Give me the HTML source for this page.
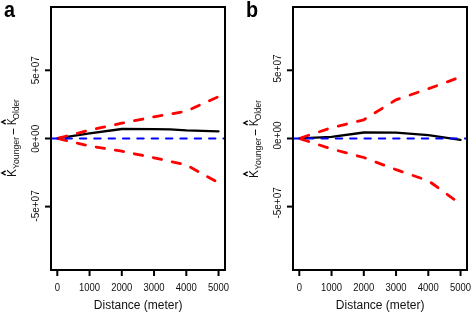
<!DOCTYPE html>
<html><head><meta charset="utf-8"><style>
html,body{margin:0;padding:0;background:#fff;}
body{width:472px;height:313px;overflow:hidden;}
svg{display:block;font-family:"Liberation Sans", sans-serif;will-change:transform;}
</style></head><body>
<svg width="472" height="313" viewBox="0 0 472 313">
<rect width="472" height="313" fill="#fff"/>
<text transform="translate(4.0 17.0) scale(0.92 1)" font-size="21.5" font-weight="bold">a</text>
<clipPath id="clipa"><rect x="52" y="8" width="172" height="261"/></clipPath>
<g clip-path="url(#clipa)" fill="none" stroke-linecap="round" stroke-linejoin="round">
<path d="M57.30 138.40 L89.55 133.30 L121.80 129.00 L154.05 129.10 L170.18 129.30 L186.30 130.30 L218.55 131.30" stroke="#000" stroke-width="2.3"/>
<path d="M57.30 138.40 L89.55 130.20 L121.80 123.20 L154.05 116.80 L186.30 111.20 L218.55 96.60" stroke="#ff0000" stroke-width="2.8" stroke-dasharray="8.5 11.010" stroke-dashoffset="-1.200"/>
<path d="M57.30 138.40 L89.55 146.00 L121.80 151.20 L154.05 157.80 L186.30 165.00 L218.55 182.70" stroke="#ff0000" stroke-width="2.8" stroke-dasharray="8.5 10.860" stroke-dashoffset="-1.100"/>
<path d="M51.25 138.5 H230" stroke="#0000ff" stroke-width="2.1" stroke-dasharray="6.3 8.05"/>
</g>
<rect x="51" y="7" width="174" height="263" fill="none" stroke="#000" stroke-width="2"/>
<line x1="57.30" y1="270" x2="57.30" y2="276" stroke="#000" stroke-width="2"/>
<text transform="translate(57.30 291) scale(0.95 1)" font-size="10" text-anchor="middle" fill="#111">0</text>
<line x1="89.55" y1="270" x2="89.55" y2="276" stroke="#000" stroke-width="2"/>
<text transform="translate(89.55 291) scale(0.95 1)" font-size="10" text-anchor="middle" fill="#111">1000</text>
<line x1="121.80" y1="270" x2="121.80" y2="276" stroke="#000" stroke-width="2"/>
<text transform="translate(121.80 291) scale(0.95 1)" font-size="10" text-anchor="middle" fill="#111">2000</text>
<line x1="154.05" y1="270" x2="154.05" y2="276" stroke="#000" stroke-width="2"/>
<text transform="translate(154.05 291) scale(0.95 1)" font-size="10" text-anchor="middle" fill="#111">3000</text>
<line x1="186.30" y1="270" x2="186.30" y2="276" stroke="#000" stroke-width="2"/>
<text transform="translate(186.30 291) scale(0.95 1)" font-size="10" text-anchor="middle" fill="#111">4000</text>
<line x1="218.55" y1="270" x2="218.55" y2="276" stroke="#000" stroke-width="2"/>
<text transform="translate(218.55 291) scale(0.95 1)" font-size="10" text-anchor="middle" fill="#111">5000</text>
<line x1="45" y1="70.3" x2="51" y2="70.3" stroke="#000" stroke-width="2"/>
<text transform="translate(39.2 70.2) rotate(-90)" font-size="10" text-anchor="middle" fill="#111">5e+07</text>
<line x1="45" y1="138.5" x2="51" y2="138.5" stroke="#000" stroke-width="2"/>
<text transform="translate(39.2 138.8) rotate(-90)" font-size="10" text-anchor="middle" fill="#111">0e+00</text>
<line x1="45" y1="206.6" x2="51" y2="206.6" stroke="#000" stroke-width="2"/>
<text transform="translate(39.2 206.0) rotate(-90)" font-size="10" text-anchor="middle" fill="#111">-5e+07</text>
<text x="138.2" y="309.4" font-size="12" text-anchor="middle" fill="#111">Distance (meter)</text>
<g transform="translate(16 177) rotate(-90)" fill="#111"><text x="0" y="0" font-size="12">K</text><path d="M1.9 -10.3 L4.0 -14.1 L6.1 -10.3" fill="none" stroke="#000" stroke-width="1.4"/><text x="8" y="2.8" font-size="8.7">Younger</text><path d="M42.6 -2.5 H48.4" stroke="#111" stroke-width="1"/><text transform="translate(52.0 0) scale(0.86 1)" font-size="12">K</text><path d="M52.9 -10.3 L55 -14.1 L57.1 -10.3" fill="none" stroke="#000" stroke-width="1.4"/><text x="57.6" y="2.8" font-size="8.3">Older</text></g>
<text transform="translate(246.0 16.6) scale(0.92 1)" font-size="21.5" font-weight="bold">b</text>
<clipPath id="clipb"><rect x="294" y="8" width="172" height="261"/></clipPath>
<g clip-path="url(#clipb)" fill="none" stroke-linecap="round" stroke-linejoin="round">
<path d="M299.30 138.40 L331.55 136.80 L363.80 132.50 L396.05 132.60 L428.30 135.20 L460.55 139.80" stroke="#000" stroke-width="2.3"/>
<path d="M299.30 138.40 L331.55 127.70 L363.80 119.80 L396.05 99.80 L428.30 88.80 L460.55 77.00" stroke="#ff0000" stroke-width="2.8" stroke-dasharray="8.5 11.260" stroke-dashoffset="-1.400"/>
<path d="M299.30 138.40 L331.55 149.00 L363.80 157.50 L396.05 169.70 L428.30 180.70 L460.55 204.00" stroke="#ff0000" stroke-width="2.8" stroke-dasharray="8.5 11.210" stroke-dashoffset="-1.400"/>
<path d="M292.75 138.5 H472" stroke="#0000ff" stroke-width="2.1" stroke-dasharray="6.3 8.05"/>
</g>
<rect x="293" y="7" width="174" height="263" fill="none" stroke="#000" stroke-width="2"/>
<line x1="299.30" y1="270" x2="299.30" y2="276" stroke="#000" stroke-width="2"/>
<text transform="translate(299.30 291) scale(0.95 1)" font-size="10" text-anchor="middle" fill="#111">0</text>
<line x1="331.55" y1="270" x2="331.55" y2="276" stroke="#000" stroke-width="2"/>
<text transform="translate(331.55 291) scale(0.95 1)" font-size="10" text-anchor="middle" fill="#111">1000</text>
<line x1="363.80" y1="270" x2="363.80" y2="276" stroke="#000" stroke-width="2"/>
<text transform="translate(363.80 291) scale(0.95 1)" font-size="10" text-anchor="middle" fill="#111">2000</text>
<line x1="396.05" y1="270" x2="396.05" y2="276" stroke="#000" stroke-width="2"/>
<text transform="translate(396.05 291) scale(0.95 1)" font-size="10" text-anchor="middle" fill="#111">3000</text>
<line x1="428.30" y1="270" x2="428.30" y2="276" stroke="#000" stroke-width="2"/>
<text transform="translate(428.30 291) scale(0.95 1)" font-size="10" text-anchor="middle" fill="#111">4000</text>
<line x1="460.55" y1="270" x2="460.55" y2="276" stroke="#000" stroke-width="2"/>
<text transform="translate(460.55 291) scale(0.95 1)" font-size="10" text-anchor="middle" fill="#111">5000</text>
<line x1="287" y1="70.3" x2="293" y2="70.3" stroke="#000" stroke-width="2"/>
<text transform="translate(281.2 68.4) rotate(-90)" font-size="10" text-anchor="middle" fill="#111">5e+07</text>
<line x1="287" y1="138.5" x2="293" y2="138.5" stroke="#000" stroke-width="2"/>
<text transform="translate(281.2 135.4) rotate(-90)" font-size="10" text-anchor="middle" fill="#111">0e+00</text>
<line x1="287" y1="206.6" x2="293" y2="206.6" stroke="#000" stroke-width="2"/>
<text transform="translate(281.2 202.9) rotate(-90)" font-size="10" text-anchor="middle" fill="#111">-5e+07</text>
<text x="380.2" y="309.4" font-size="12" text-anchor="middle" fill="#111">Distance (meter)</text>
<g transform="translate(258 177.9) rotate(-90)" fill="#111"><text x="0" y="0" font-size="12">K</text><path d="M1.9 -10.3 L4.0 -14.1 L6.1 -10.3" fill="none" stroke="#000" stroke-width="1.4"/><text x="8" y="2.8" font-size="8.7">Younger</text><path d="M42.6 -2.5 H48.4" stroke="#111" stroke-width="1"/><text transform="translate(52.0 0) scale(0.86 1)" font-size="12">K</text><path d="M52.9 -10.3 L55 -14.1 L57.1 -10.3" fill="none" stroke="#000" stroke-width="1.4"/><text x="57.6" y="2.8" font-size="8.3">Older</text></g>
</svg>
</body></html>
